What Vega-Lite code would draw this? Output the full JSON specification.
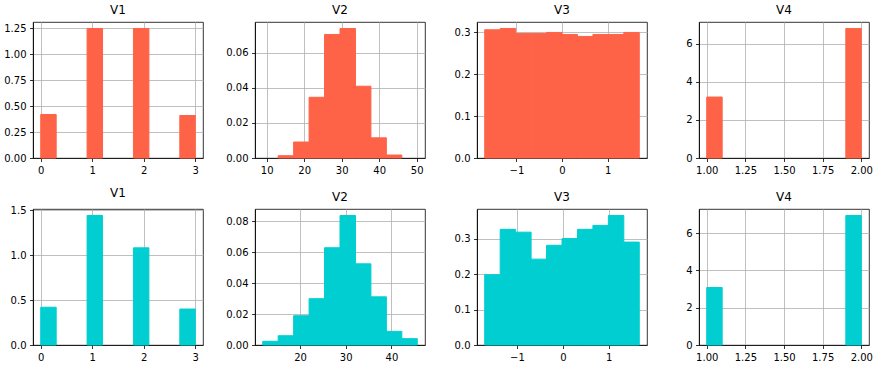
{
  "$schema": "https://vega.github.io/schema/vega-lite/v6.json",
  "background": "white",
  "padding": {"left": 3, "top": 3, "right": 5, "bottom": 5},
  "config": {
    "font": "DejaVu Sans",
    "view": {"stroke": "black", "strokeWidth": 0.8},
    "title": {"fontSize": 12, "fontWeight": "normal", "color": "black", "offset": 5, "font": "DejaVu Sans"},
    "axis": {
      "zindex": 1,
      "title": null,
      "labelFont": "DejaVu Sans",
      "labelFontSize": 10,
      "labelColor": "black",
      "labelPadding": 3.5,
      "tickSize": 3.5,
      "tickWidth": 0.8,
      "tickColor": "black",
      "domainColor": "black",
      "domainWidth": 0.8,
      "grid": true,
      "gridColor": "#b0b0b0",
      "gridWidth": 0.8
    }
  },
  "datasets": {
    "t1": [
      {"x0": 0.0, "x1": 0.3, "d": 0.42},
      {"x0": 0.9, "x1": 1.2, "d": 1.25},
      {"x0": 1.8, "x1": 2.1, "d": 1.25},
      {"x0": 2.7, "x1": 3.0, "d": 0.41}
    ],
    "t2": [
      {"x0": 13.08, "x1": 17.2, "d": 0.0013},
      {"x0": 17.2, "x1": 21.32, "d": 0.0091},
      {"x0": 21.32, "x1": 25.44, "d": 0.0346},
      {"x0": 25.44, "x1": 29.56, "d": 0.0704},
      {"x0": 29.56, "x1": 33.68, "d": 0.0738},
      {"x0": 33.68, "x1": 37.8, "d": 0.0409},
      {"x0": 37.8, "x1": 41.92, "d": 0.0115},
      {"x0": 41.92, "x1": 46.04, "d": 0.0017}
    ],
    "t3": [
      {"x0": -1.694, "x1": -1.355, "d": 0.3057},
      {"x0": -1.355, "x1": -1.016, "d": 0.3088},
      {"x0": -1.016, "x1": -0.678, "d": 0.2969},
      {"x0": -0.678, "x1": -0.339, "d": 0.2969},
      {"x0": -0.339, "x1": 0.0, "d": 0.2993},
      {"x0": 0.0, "x1": 0.339, "d": 0.2945},
      {"x0": 0.339, "x1": 0.678, "d": 0.2898},
      {"x0": 0.678, "x1": 1.016, "d": 0.2945},
      {"x0": 1.016, "x1": 1.355, "d": 0.2945},
      {"x0": 1.355, "x1": 1.694, "d": 0.2993}
    ],
    "t4": [
      {"x0": 1.0, "x1": 1.1, "d": 3.2},
      {"x0": 1.9, "x1": 2.0, "d": 6.8}
    ],
    "b1": [
      {"x0": 0.0, "x1": 0.3, "d": 0.42},
      {"x0": 0.9, "x1": 1.2, "d": 1.44},
      {"x0": 1.8, "x1": 2.1, "d": 1.08},
      {"x0": 2.7, "x1": 3.0, "d": 0.40}
    ],
    "b2": [
      {"x0": 11.85, "x1": 15.23, "d": 0.0024},
      {"x0": 15.23, "x1": 18.61, "d": 0.0060},
      {"x0": 18.61, "x1": 21.99, "d": 0.0189},
      {"x0": 21.99, "x1": 25.37, "d": 0.0299},
      {"x0": 25.37, "x1": 28.75, "d": 0.0628},
      {"x0": 28.75, "x1": 32.13, "d": 0.0836},
      {"x0": 32.13, "x1": 35.51, "d": 0.0524},
      {"x0": 35.51, "x1": 38.89, "d": 0.0311},
      {"x0": 38.89, "x1": 42.27, "d": 0.0088},
      {"x0": 42.27, "x1": 45.65, "d": 0.0041}
    ],
    "b3": [
      {"x0": -1.703, "x1": -1.366, "d": 0.198},
      {"x0": -1.366, "x1": -1.029, "d": 0.326},
      {"x0": -1.029, "x1": -0.692, "d": 0.318},
      {"x0": -0.692, "x1": -0.355, "d": 0.242},
      {"x0": -0.355, "x1": -0.018, "d": 0.281},
      {"x0": -0.018, "x1": 0.319, "d": 0.300},
      {"x0": 0.319, "x1": 0.656, "d": 0.326},
      {"x0": 0.656, "x1": 0.993, "d": 0.337},
      {"x0": 0.993, "x1": 1.33, "d": 0.365},
      {"x0": 1.33, "x1": 1.667, "d": 0.290}
    ],
    "b4": [
      {"x0": 1.0, "x1": 1.1, "d": 3.08},
      {"x0": 1.9, "x1": 2.0, "d": 6.94}
    ]
  },
  "columns": 4,
  "bounds": "flush",
  "spacing": {"row": 51, "column": 52},
  "concat": [
    {
      "title": "V1", "width": 170, "height": 136,
      "data": {"name": "t1"},
      "mark": {"type": "bar", "color": "#FF6347", "stroke": "#FF6347", "strokeWidth": 1},
      "encoding": {
        "x": {"field": "x0", "type": "quantitative", "scale": {"domain": [-0.15, 3.15], "nice": false, "zero": false}, "axis": {"values": [0, 1, 2, 3], "format": "d"}},
        "x2": {"field": "x1"},
        "y": {"field": "d", "type": "quantitative", "scale": {"domain": [0, 1.3125], "nice": false}, "axis": {"values": [0, 0.25, 0.5, 0.75, 1.0, 1.25], "format": ".2f"}},
        "y2": {"datum": 0}
      }
    },
    {
      "title": "V2", "width": 170, "height": 136,
      "data": {"name": "t2"},
      "mark": {"type": "bar", "color": "#FF6347", "stroke": "#FF6347", "strokeWidth": 1},
      "encoding": {
        "x": {"field": "x0", "type": "quantitative", "scale": {"domain": [6.9, 52.22], "nice": false, "zero": false}, "axis": {"values": [10, 20, 30, 40, 50], "format": "d"}},
        "x2": {"field": "x1"},
        "y": {"field": "d", "type": "quantitative", "scale": {"domain": [0, 0.0775], "nice": false}, "axis": {"values": [0, 0.02, 0.04, 0.06], "format": ".2f"}},
        "y2": {"datum": 0}
      }
    },
    {
      "title": "V3", "width": 170, "height": 136,
      "data": {"name": "t3"},
      "mark": {"type": "bar", "color": "#FF6347", "stroke": "#FF6347", "strokeWidth": 1},
      "encoding": {
        "x": {"field": "x0", "type": "quantitative", "scale": {"domain": [-1.8634, 1.8634], "nice": false, "zero": false}, "axis": {"values": [-1, 0, 1], "format": "d"}},
        "x2": {"field": "x1"},
        "y": {"field": "d", "type": "quantitative", "scale": {"domain": [0, 0.3242], "nice": false}, "axis": {"values": [0, 0.1, 0.2, 0.3], "format": ".1f"}},
        "y2": {"datum": 0}
      }
    },
    {
      "title": "V4", "width": 170, "height": 136,
      "data": {"name": "t4"},
      "mark": {"type": "bar", "color": "#FF6347", "stroke": "#FF6347", "strokeWidth": 1},
      "encoding": {
        "x": {"field": "x0", "type": "quantitative", "scale": {"domain": [0.95, 2.05], "nice": false, "zero": false}, "axis": {"values": [1.0, 1.25, 1.5, 1.75, 2.0], "format": ".2f"}},
        "x2": {"field": "x1"},
        "y": {"field": "d", "type": "quantitative", "scale": {"domain": [0, 7.14], "nice": false}, "axis": {"values": [0, 2, 4, 6], "format": "d"}},
        "y2": {"datum": 0}
      }
    },
    {
      "title": "V1", "width": 170, "height": 136,
      "data": {"name": "b1"},
      "mark": {"type": "bar", "color": "#00CED1", "stroke": "#00CED1", "strokeWidth": 1},
      "encoding": {
        "x": {"field": "x0", "type": "quantitative", "scale": {"domain": [-0.15, 3.15], "nice": false, "zero": false}, "axis": {"values": [0, 1, 2, 3], "format": "d"}},
        "x2": {"field": "x1"},
        "y": {"field": "d", "type": "quantitative", "scale": {"domain": [0, 1.512], "nice": false}, "axis": {"values": [0, 0.5, 1.0, 1.5], "format": ".1f"}},
        "y2": {"datum": 0}
      }
    },
    {
      "title": "V2", "width": 170, "height": 136,
      "data": {"name": "b2"},
      "mark": {"type": "bar", "color": "#00CED1", "stroke": "#00CED1", "strokeWidth": 1},
      "encoding": {
        "x": {"field": "x0", "type": "quantitative", "scale": {"domain": [10.16, 47.34], "nice": false, "zero": false}, "axis": {"values": [20, 30, 40], "format": "d"}},
        "x2": {"field": "x1"},
        "y": {"field": "d", "type": "quantitative", "scale": {"domain": [0, 0.0878], "nice": false}, "axis": {"values": [0, 0.02, 0.04, 0.06, 0.08], "format": ".2f"}},
        "y2": {"datum": 0}
      }
    },
    {
      "title": "V3", "width": 170, "height": 136,
      "data": {"name": "b3"},
      "mark": {"type": "bar", "color": "#00CED1", "stroke": "#00CED1", "strokeWidth": 1},
      "encoding": {
        "x": {"field": "x0", "type": "quantitative", "scale": {"domain": [-1.8715, 1.8355], "nice": false, "zero": false}, "axis": {"values": [-1, 0, 1], "format": "d"}},
        "x2": {"field": "x1"},
        "y": {"field": "d", "type": "quantitative", "scale": {"domain": [0, 0.3833], "nice": false}, "axis": {"values": [0, 0.1, 0.2, 0.3], "format": ".1f"}},
        "y2": {"datum": 0}
      }
    },
    {
      "title": "V4", "width": 170, "height": 136,
      "data": {"name": "b4"},
      "mark": {"type": "bar", "color": "#00CED1", "stroke": "#00CED1", "strokeWidth": 1},
      "encoding": {
        "x": {"field": "x0", "type": "quantitative", "scale": {"domain": [0.95, 2.05], "nice": false, "zero": false}, "axis": {"values": [1.0, 1.25, 1.5, 1.75, 2.0], "format": ".2f"}},
        "x2": {"field": "x1"},
        "y": {"field": "d", "type": "quantitative", "scale": {"domain": [0, 7.287], "nice": false}, "axis": {"values": [0, 2, 4, 6], "format": "d"}},
        "y2": {"datum": 0}
      }
    }
  ]
}
